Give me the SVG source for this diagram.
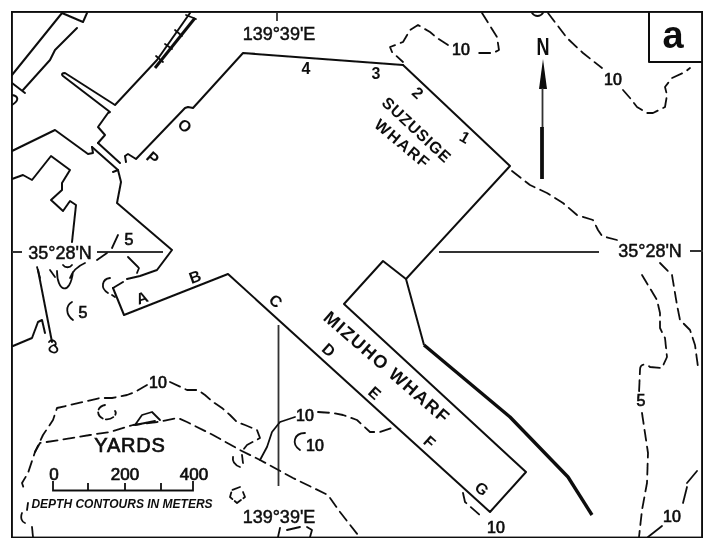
<svg xmlns="http://www.w3.org/2000/svg" width="720" height="550" viewBox="0 0 720 550">
<defs><filter id="soft" x="0" y="0" width="100%" height="100%"><feGaussianBlur stdDeviation="0.4"/></filter></defs>
<style>
.m{fill:none;stroke:#111;stroke-width:2;stroke-linejoin:round;stroke-linecap:round}
.d{fill:none;stroke:#111;stroke-width:1.800;stroke-dasharray:11 6;stroke-linecap:round;stroke-linejoin:round}
.s{fill:none;stroke:#111;stroke-width:1.800;stroke-linecap:round;stroke-linejoin:round}
.g{fill:none;stroke:#333;stroke-width:1.800}
text{font-family:"Liberation Sans",Arial,sans-serif;fill:#111;text-anchor:middle}
.t{font-size:18px;stroke:#111;stroke-width:.5}
.b{font-size:16px;font-weight:bold}
.n{font-size:16px;stroke:#111;stroke-width:.7}
</style>
<rect width="720" height="550" fill="#fff"/>
<g filter="url(#soft)">
<g id="frame">
<rect x="11.500" y="11.500" width="691" height="526.500" fill="none" stroke="#111" stroke-width="2.800"/>
</g>
<g id="label-a">
<path d="M649 12V62H703" class="m"/>
<text x="673" y="48" style="font-size:38px;font-weight:bold">a</text>
</g>
<g id="connectors">
<!-- wharves -->
<path class="m" d="M403 65L510 166L406 279L383 261L344 304L526 472L490 512L228 274L124 315L113 288"/>
<path class="m" d="M403 65L243 53L193 108L188 107L185 108L136 159L128 154L125 156L126 162"/>
<!-- shore, upper left -->
<path class="m" d="M98 143L120 163M92 147L118 170"/>
<path class="m" d="M12 151L55 130L88 154L93 153L92 147"/>
<path class="m" d="M98 143L105 135L98 127L108 113L110 112L63 76C61 74 62 73 65 73L115 105L157 60L190 13"/>
<path class="m" d="M118 170L113 172M118 170L121 182L117 203L172 250L157 270L140 276L127 279M123 282L113 288"/>
<path class="m" d="M12 179L23 175L32 180L51 156L70 170L62 183V190L51 200L63 211L70 201L76 205L72 242"/>
<path class="m" d="M13 346L32 338L38 322L42 320L45 333"/>
<path class="m" d="M38 270L52 342"/>
<path class="s" d="M49 342C52 338 58 342 55 346C60 350 56 354 52 352C47 350 50 346 54 345"/>
<!-- roads, upper left -->
<path class="m" d="M12 75L62 13M23 90L50 60L55 50L77 28M62 13L83 22M87 13L83 22M12 83L25 93"/>
<path class="m" d="M12 95C18 96 20 100 12 105"/>
<path d="M155 68L195 18" fill="none" stroke="#111" stroke-width="3"/>
<path class="s" d="M186 15L196 19M175 30L182 36M165 44L172 49M156 56L163 62"/>
<!-- thick breakwater -->
<path d="M406 279L424 345" fill="none" stroke="#111" stroke-width="2"/>
<path d="M424 345L510 417L568 477L592 515" fill="none" stroke="#111" stroke-width="3.400" stroke-linejoin="round"/>
<!-- graticule -->
<path class="g" d="M278.500 325V486M439 252H599M97 252H163M12 252H22M690 251H703M277 13V21"/>
<!-- north arrow -->
<path d="M543 59L539 89H547Z" fill="#111"/>
<path d="M542.500 88V128" fill="none" stroke="#333" stroke-width="1.800"/>
<path d="M542 127V179" fill="none" stroke="#111" stroke-width="3.800"/>
<!-- scale bar -->
<path d="M53 481V490.500H193V481M88 483V490M125 483V490M161 483V490" fill="none" stroke="#111" stroke-width="1.800"/>
<!-- depth contours, right -->
<path class="d" d="M512 171L530 185L547 193L563 203L577 215L593 220L598 230L602 236L617 240"/>
<path class="d" d="M642 275L657 300L660 313V328L665 338L667 357L662 368L650 367C645 363 640 364 640 370L639 393"/>
<path class="d" d="M642 413L648 453L647 483L642 510L639 537"/>
<path class="d" d="M660 263L672 275L677 305L680 320L690 330L695 345L698 367"/>
<path class="s" d="M648 537L662 526M683 503L687 487M687 483L697 471"/>
<path class="d" d="M548 13L567 38L583 53L602 68"/>
<path class="d" d="M623 90L630 98L637 107L647 113L653 113L665 107L667 95L665 87L672 78L685 72L690 68"/>
<path class="s" d="M532 13C535 17 540 17 543 13"/>
<path class="d" d="M482 13L497 37L499 50L493 53L475 53"/>
<path class="d" d="M448 45L437 38L430 32L418 25L410 30L403 42L390 47L392 52L403 62"/>
<path class="d" d="M463 493L465 502L482 517"/>
<!-- depth contours, lower left -->
<path class="d" d="M318 412L333 413L343 415L357 420L370 432L380 432L392 428"/>
<path class="s" d="M295 417L280 422L272 432L267 447L260 460"/>
<path class="d" d="M147 385L135 392L127 395L112 398L100 398L70 405L57 408L53 420L43 435L35 452L28 473L22 483L25 492"/>
<path class="d" d="M170 382L187 390L198 390L205 395L213 402L222 408L230 415L237 422L245 425L257 430L260 438L247 445L243 450"/>
<path class="d" d="M35 452L40 443L60 440L90 435L110 432L133 425L157 422L178 418L187 422L213 435L240 450L260 460L293 478L328 495L340 512L358 535"/>
<path class="s" d="M135 425L142 415L152 412L160 420M135 425L155 421"/>
<path class="s" d="M28 503L27 510M22 513C20 518 22 522 25 523M32 527L33 537"/>
<path class="d" d="M105 405C96 407 96 416 104 419C112 421 118 414 115 411" style="stroke-dasharray:8 3"/>
<path class="s" d="M233 457C232 462 235 465 240 467M242 455L243 463"/>
<path class="d" d="M240 487L232 490L230 497L237 503L245 497L243 492" style="stroke-dasharray:8 3"/>
<path class="s" d="M305 433C294 433 291 444 300 450"/>
<path class="s" d="M278 537L280 528M287 530L300 527M307 527L312 530L310 537"/>
<!-- small scribbles, left -->
<path class="s" d="M110 278C102 279 100 288 108 293M112 295L115 297"/>
<path class="s" d="M72 302C65 306 66 315 73 320"/>
<path class="s" d="M57 271C57 292 70 296 73 272M37 267L40 278M50 270L55 277M63 265C65 268 70 268 72 265M85 263C78 266 73 270 70 278"/>
<path class="s" d="M118 235L112 248M107 253L97 260M128 257L138 267M139 268L137 273"/>
</g>
<g id="labels">
<text x="279" y="40" class="t">139°39'E</text>
<text x="279" y="523" class="t">139°39'E</text>
<text x="60" y="259" class="t">35°28'N</text>
<text x="650" y="257" class="t">35°28'N</text>
<text transform="translate(543 55) scale(.75 1)" style="font-size:24px;font-weight:bold">N</text>
<text x="306" y="74" class="b">4</text>
<text x="376" y="79" class="b">3</text>
<text class="b" transform="translate(414 97) rotate(42)">2</text>
<text class="b" transform="translate(462 142) rotate(30)">1</text>
<text class="b" transform="translate(413 134) rotate(43)" style="letter-spacing:.8px">SUZUSIGE</text>
<text class="b" transform="translate(399 148) rotate(40)" style="letter-spacing:1.500px">WHARF</text>
<text transform="translate(383 372) rotate(41)" style="font-size:18px;font-weight:bold;letter-spacing:1.500px">MIZUHO WHARF</text>
<text x="461" y="55" class="n">10</text>
<text x="613" y="85" class="n">10</text>
<text x="641" y="406" class="n">5</text>
<text x="672" y="522" class="n">10</text>
<text x="496" y="533" class="n">10</text>
<text x="305" y="421" class="n">10</text>
<text x="315" y="451" class="n">10</text>
<text x="158" y="388" class="n">10</text>
<text x="129" y="245" class="n">5</text>
<text x="83" y="318" class="n">5</text>
<text class="b" transform="translate(144 303) rotate(-20)">A</text>
<text class="b" transform="translate(197 282) rotate(-20)">B</text>
<text class="b" transform="translate(272 305) rotate(42)">C</text>
<text class="b" transform="translate(325 354) rotate(42)">D</text>
<text class="b" transform="translate(371 397) rotate(42)">E</text>
<text class="b" transform="translate(426 446) rotate(42)">F</text>
<text class="b" transform="translate(478 493) rotate(42)">G</text>
<text class="b" transform="translate(181 130) rotate(42)">O</text>
<text class="b" transform="translate(149 162) rotate(42)">P</text>
<text x="130" y="452" style="font-size:20px;letter-spacing:.8px;stroke:#111;stroke-width:.7">YARDS</text>
<text x="54" y="480" class="n" style="font-size:17px">0</text>
<text x="125" y="480" class="n" style="font-size:17px">200</text>
<text x="194" y="480" class="n" style="font-size:17px">400</text>
<text x="122" y="508" style="font-size:12px;font-weight:bold;font-style:italic">DEPTH CONTOURS IN METERS</text>
</g>
</g>
</svg>
